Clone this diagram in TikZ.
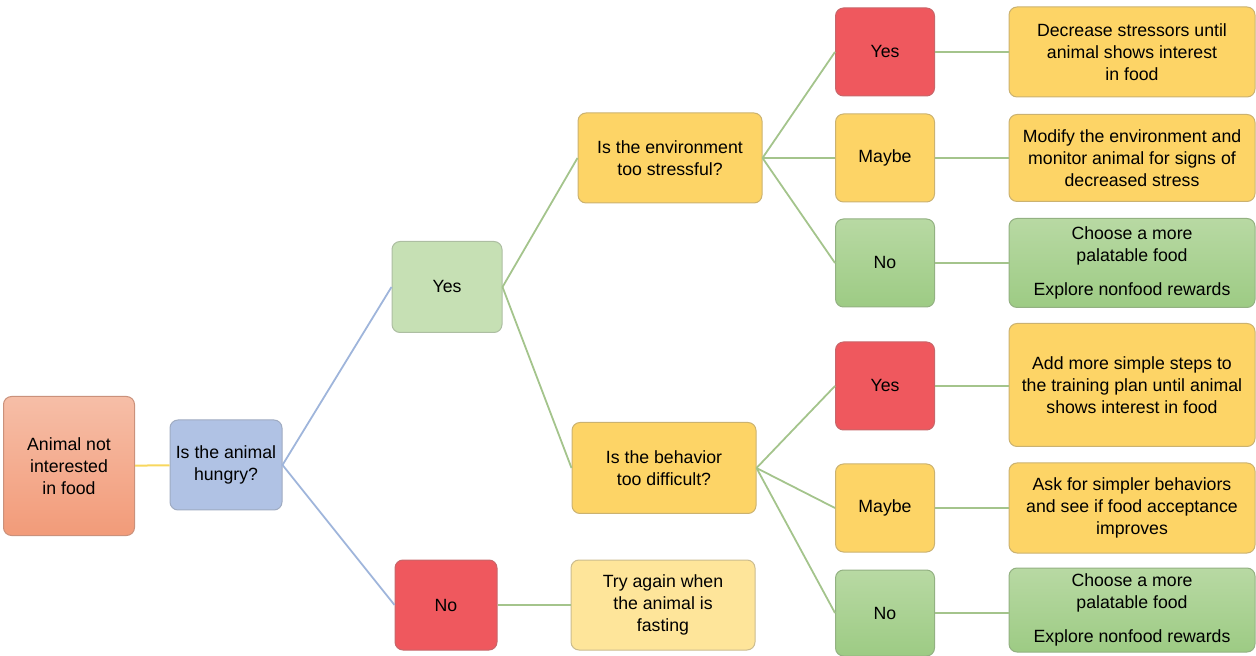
\documentclass[tikz,border=0pt]{standalone}
\usepackage{fontspec}
\setmainfont{Liberation Sans}

\definecolor{salmontop}{HTML}{F6BEA7}
\definecolor{salmonbot}{HTML}{F29B79}
\definecolor{hungryblue}{HTML}{B0C2E4}
\definecolor{palegreen}{HTML}{C6E0B4}
\definecolor{alertred}{HTML}{EF585E}
\definecolor{warnyellow}{HTML}{FDD466}
\definecolor{softyellow}{HTML}{FEE59A}
\definecolor{greentop}{HTML}{B8D9A3}
\definecolor{greenbot}{HTML}{9DCB84}
\definecolor{lineyellow}{HTML}{F8D75E}
\definecolor{lineblue}{HTML}{9FB5DB}
\definecolor{linegreen}{HTML}{A4C48C}

\begin{document}
\begin{tikzpicture}[x=0.5pt, y=-0.5pt]

    \tikzset{box/.style={%
      draw,%
      rectangle,%
      rounded corners=4pt,%
      inner sep=0pt,%
      line width=0.5pt,%
      align=center,%
      font=\fontsize{8.85}{11}\selectfont}%
    };

    \tikzset{question/.style={box, minimum width=92pt, minimum height=45pt}};
    \tikzset{answer/.style={box, minimum width=49.5pt, minimum height=44pt}};
    \tikzset{advice/.style={box, minimum width=123pt, minimum height=45pt}};
    \tikzset{redfill/.style={fill=alertred, draw=alertred!65!gray}};
    \tikzset{yellowfill/.style={fill=warnyellow, draw=warnyellow!60!gray}};
    \tikzset{greenfill/.style={top color=greentop, bottom color=greenbot, draw=greenbot!65!gray}};
    \tikzset{link/.style={line width=0.9pt, linegreen}};

    \useasboundingbox (0,0) rectangle (1256,656);

    %%%%%%%%%%%%%%%
    %  start      %
    %%%%%%%%%%%%%%%
    \node [box, minimum width=65.5pt, minimum height=69.5pt, top color=salmontop,
      bottom color=salmonbot, draw=salmonbot!65!gray] (start) at (69,466)
      {Animal not\\interested\\in food};
    \node [box, minimum width=56pt, minimum height=45pt, fill=hungryblue,
      draw=hungryblue!65!gray] (hungry) at (226,465) {Is the animal\\hungry?};

    %%%%%%%%%%%%%%%
    %  hungry     %
    %%%%%%%%%%%%%%%
    \node [box, minimum width=55pt, minimum height=45.5pt, fill=palegreen,
      draw=palegreen!65!gray] (hyes) at (447,287) {Yes};
    \node [box, minimum width=51pt, minimum height=45pt, redfill] (hno) at (446,605) {No};
    \node [question, fill=softyellow, draw=softyellow!60!gray] (fast) at (663,605)
      {Try again when\\the animal is\\fasting};

    \node [question, yellowfill] (env) at (670,158) {Is the environment\\too stressful?};
    \node [question, minimum height=45.5pt, yellowfill] (beh) at (664,468)
      {Is the behavior\\too difficult?};

    %%%%%%%%%%%%%%%
    %  environment%
    %%%%%%%%%%%%%%%
    \node [answer, redfill] (eyes) at (885,52) {Yes};
    \node [answer, yellowfill] (emay) at (885,158) {Maybe};
    \node [answer, greenfill] (eno) at (885,263) {No};

    \node [advice, yellowfill] (edec) at (1132,52)
      {Decrease stressors until\\animal shows interest\\in food};
    \node [advice, minimum height=43.5pt, yellowfill] (emod) at (1132,158)
      {Modify the environment and\\monitor animal for signs of\\decreased stress};
    \node [advice, minimum height=44.5pt, greenfill] (efood) at (1132,263)
      {Choose a more\\palatable food\\[6pt]Explore nonfood rewards};

    %%%%%%%%%%%%%%%
    %  behavior   %
    %%%%%%%%%%%%%%%
    \node [answer, redfill] (byes) at (885,386) {Yes};
    \node [answer, yellowfill] (bmay) at (885,508) {Maybe};
    \node [answer, minimum height=43pt, greenfill] (bno) at (885,613) {No};

    \node [advice, minimum height=61.5pt, yellowfill] (badd) at (1132,385)
      {Add more simple steps to\\the training plan until animal\\shows interest in food};
    \node [advice, yellowfill] (bask) at (1132,508)
      {Ask for simpler behaviors\\and see if food acceptance\\improves};
    \node [advice, minimum height=42pt, greenfill] (bfood) at (1132,610)
      {Choose a more\\palatable food\\[6pt]Explore nonfood rewards};

    \draw [line width=1pt, lineyellow] (start) -- (hungry);
    \draw [line width=0.9pt, lineblue] (hungry.east) -- (hyes.west);
    \draw [line width=0.9pt, lineblue] (hungry.east) -- (hno.west);
    \draw [link] (hno) -- (fast);
    \draw [link] (hyes.east) -- (env.west);
    \draw [link] (hyes.east) -- (beh.west);

    \draw [link] (env.east) -- (eyes.west);
    \draw [link] (env.east) -- (emay.west);
    \draw [link] (env.east) -- (eno.west);
    \draw [link] (beh.east) -- (byes.west);
    \draw [link] (beh.east) -- (bmay.west);
    \draw [link] (beh.east) -- (bno.west);

    \draw [link] (eyes.east) -- (eyes.east -| edec.west);
    \draw [link] (emay.east) -- (emay.east -| emod.west);
    \draw [link] (eno.east) -- (eno.east -| efood.west);
    \draw [link] (byes.east) -- (byes.east -| badd.west);
    \draw [link] (bmay.east) -- (bmay.east -| bask.west);
    \draw [link] (bno.east) -- (bno.east -| bfood.west);

  \end{tikzpicture}
\end{document}
